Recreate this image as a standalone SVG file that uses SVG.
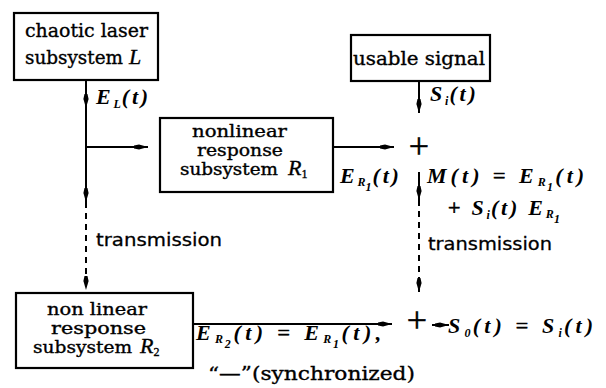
<svg xmlns="http://www.w3.org/2000/svg" width="606" height="388" viewBox="0 0 606 388">
<defs>
<style>
.box{fill:#fff;stroke:#000;stroke-width:2.2}
.ln{stroke:#000;stroke-width:2;fill:none}
.dash{stroke-dasharray:6 5}
.t{font-family:"DejaVu Serif","Liberation Serif",serif;font-size:19px;fill:#000;stroke:#000;stroke-width:0.35}
.t2{font-size:16px}
.i{font-family:"Liberation Serif",serif;font-style:italic;font-size:22px;fill:#000;stroke:#000;stroke-width:0.35}
.s{font-family:"DejaVu Sans","Liberation Sans",sans-serif;font-size:18px;fill:#000;stroke:#000;stroke-width:0.3}
.m{font-family:"Liberation Serif",serif;font-style:italic;font-weight:bold;font-size:22px;fill:#000;letter-spacing:2.8px}
.sub{font-size:12px;letter-spacing:0}
.up{font-style:normal;font-weight:normal;stroke:#000;stroke-width:0.6}
.plus{font-family:"Liberation Serif",serif;font-size:36px;fill:#000;text-anchor:middle;stroke:#000;stroke-width:0.5}
</style>
<marker id="ah" viewBox="0 -3 14 6" refX="14" refY="0" markerWidth="14" markerHeight="6" markerUnits="userSpaceOnUse" orient="auto">
<path d="M0,-1.5 L5,-2.6 L14,0 L5,2.6 L0,1.5 z" fill="#000"/>
</marker>
</defs>
<rect width="606" height="388" fill="#fff"/>

<g id="connectors">
<line class="ln" x1="86" y1="80" x2="86" y2="108" marker-end="url(#ah)"/>
<line class="ln" x1="86" y1="108" x2="86" y2="202" marker-end="url(#ah)"/>
<line class="ln dash" x1="86" y1="202" x2="86" y2="290" marker-end="url(#ah)"/>
<line class="ln" x1="86" y1="147" x2="148" y2="147" marker-end="url(#ah)"/>
<line class="ln" x1="419" y1="81" x2="419" y2="113" marker-end="url(#ah)"/>
<line class="ln" x1="333" y1="147" x2="394" y2="147" marker-end="url(#ah)"/>
<line class="ln" x1="419" y1="172" x2="419" y2="200" marker-end="url(#ah)"/>
<line class="ln dash" x1="419" y1="200" x2="419" y2="292" marker-end="url(#ah)"/>
<line class="ln" x1="193" y1="324" x2="392" y2="324" marker-end="url(#ah)"/>
<line class="ln" x1="432" y1="325" x2="449" y2="325" marker-end="url(#ah)"/>
</g>

<g id="node-L">
<rect class="box" x="14" y="13" width="144" height="67"/>
<text class="t" x="25" y="37" textLength="123" lengthAdjust="spacingAndGlyphs">chaotic laser</text>
<text class="t" x="25" y="64" textLength="98" lengthAdjust="spacingAndGlyphs">subsystem</text>
<text class="i" x="129" y="64">L</text>
</g>

<g id="node-usable">
<rect class="box" x="351" y="35" width="139" height="46"/>
<text class="t" x="353" y="65" textLength="132" lengthAdjust="spacingAndGlyphs">usable signal</text>
</g>

<g id="node-R1">
<rect class="box" x="160" y="118" width="173" height="74"/>
<text class="t t2" x="192" y="137" textLength="95" lengthAdjust="spacingAndGlyphs">nonlinear</text>
<text class="t t2" x="197" y="156" textLength="86" lengthAdjust="spacingAndGlyphs">response</text>
<text class="t t2" x="180" y="175" textLength="98" lengthAdjust="spacingAndGlyphs">subsystem</text>
<text class="i" x="288" y="175" font-size="20">R<tspan font-size="12" font-style="normal" dy="3">1</tspan></text>
</g>

<g id="node-R2">
<rect class="box" x="16" y="293" width="177" height="75"/>
<text class="t t2" x="47" y="315" textLength="100" lengthAdjust="spacingAndGlyphs">non linear</text>
<text class="t t2" x="51" y="334" textLength="95" lengthAdjust="spacingAndGlyphs">response</text>
<text class="t t2" x="33" y="353" textLength="99" lengthAdjust="spacingAndGlyphs">subsystem</text>
<text class="i" x="140" y="353" font-size="20">R<tspan font-size="12" font-style="normal" dy="3">2</tspan></text>
</g>

<g id="labels">
<text class="m" x="96" y="104">E<tspan class="sub" dy="4">L</tspan><tspan dy="-4" dx="1">(t)</tspan></text>
<text class="m" x="430" y="101">S<tspan class="sub" dy="4">i</tspan><tspan dy="-4" dx="1">(t)</tspan></text>
<text class="plus" x="419" y="158">+</text>
<text class="m" x="340" y="183">E<tspan class="sub" dy="3">R</tspan><tspan class="sub" font-size="10" dy="5">1</tspan><tspan dy="-8" dx="1">(t)</tspan></text>
<text class="m" x="427" y="183" textLength="160" lengthAdjust="spacing">M(t) <tspan class="up">=</tspan> E<tspan class="sub" dy="3">R</tspan><tspan class="sub" font-size="10" dy="5">1</tspan><tspan dy="-8" dx="1">(t)</tspan></text>
<text class="m" x="448" y="215"><tspan class="up">+</tspan> S<tspan class="sub" dy="4">i</tspan><tspan dy="-4" dx="1">(t) E</tspan><tspan class="sub" dy="3">R</tspan><tspan class="sub" font-size="10" dy="5">1</tspan></text>
<text class="s" x="96" y="246" textLength="126" lengthAdjust="spacingAndGlyphs">transmission</text>
<text class="s" x="428" y="250" textLength="124" lengthAdjust="spacingAndGlyphs">transmission</text>
<text class="plus" x="417" y="332">+</text>
<text class="m" x="448" y="333" textLength="148" lengthAdjust="spacing">S<tspan class="sub" dy="4">0</tspan><tspan dy="-4" dx="1">(t) </tspan><tspan class="up">=</tspan> S<tspan class="sub" dy="4">i</tspan><tspan dy="-4" dx="1">(t)</tspan></text>
<text class="m" x="196" y="340" textLength="188" lengthAdjust="spacing">E<tspan class="sub" dy="3">R</tspan><tspan class="sub" font-size="10" dy="5">2</tspan><tspan dy="-8" dx="1">(t) </tspan><tspan class="up">=</tspan> E<tspan class="sub" dy="3">R</tspan><tspan class="sub" font-size="10" dy="5">1</tspan><tspan dy="-8" dx="1">(t),</tspan></text>
<text class="t" x="208" y="380" font-size="18" textLength="207" lengthAdjust="spacingAndGlyphs">“—”(synchronized)</text>
</g>
</svg>
